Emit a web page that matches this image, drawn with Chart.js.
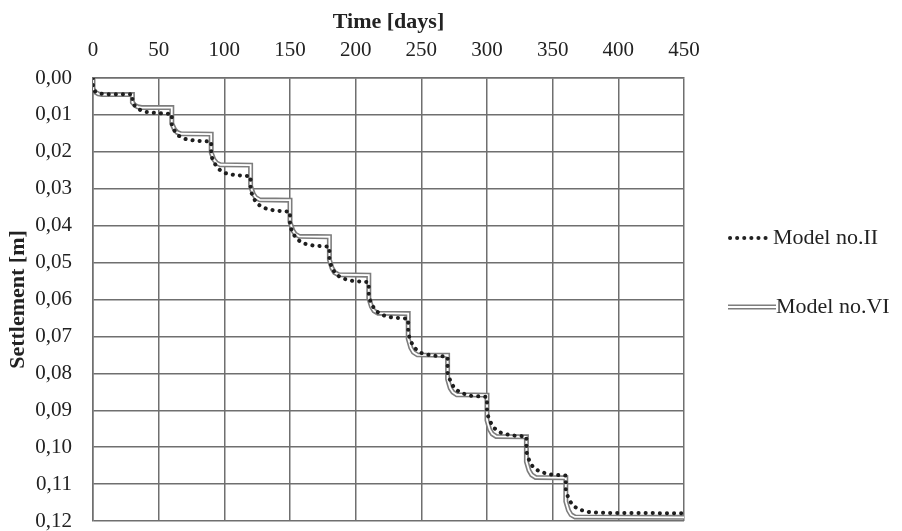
<!DOCTYPE html>
<html>
<head>
<meta charset="utf-8">
<script src="https://cdn.jsdelivr.net/npm/chart.js@4.4.1/dist/chart.umd.min.js"></script>
<style>
  html, body { margin: 0; padding: 0; background: #fff; }
  #wrap { width: 902px; height: 531px; }
</style>
</head>
<body>
<div id="wrap"><canvas id="settle" width="902" height="531"></canvas></div>
<script>
// series names as in the legend
const seriesNames = ["Model no.II", "Model no.VI"];

// Model no.II (dotted)
const daysII = [
  0, 0, 2, 5, 10, 18,
  30, 30, 32, 35, 40, 48,
  60, 60, 62, 65, 70, 78,
  90, 90, 92, 95, 100, 108,
  120, 120, 122, 125, 130, 138,
  150, 150, 152, 155, 160, 168,
  180, 180, 182, 185, 190, 198,
  210, 210, 212, 215, 220, 228,
  240, 240, 242, 245, 250, 258,
  270, 270, 272, 275, 280, 288,
  300, 300, 302, 305, 310, 318,
  330, 330, 332, 335, 340, 348,
  360, 360, 362, 365, 370, 378,
  390, 450
];
const settlementII = [
  0, 0.0030, 0.0038, 0.0042, 0.0044, 0.0044,
  0.0044, 0.0065, 0.0076, 0.0085, 0.0092, 0.0095,
  0.0097, 0.0127, 0.0142, 0.0156, 0.0165, 0.0170,
  0.0172, 0.0210, 0.0228, 0.0245, 0.0257, 0.0263,
  0.0266, 0.0304, 0.0324, 0.0341, 0.0352, 0.0359,
  0.0362, 0.0400, 0.0419, 0.0436, 0.0448, 0.0454,
  0.0457, 0.0495, 0.0515, 0.0532, 0.0543, 0.0550,
  0.0553, 0.0593, 0.0612, 0.0630, 0.0642, 0.0649,
  0.0652, 0.0693, 0.0714, 0.0732, 0.0745, 0.0752,
  0.0755, 0.0799, 0.0820, 0.0840, 0.0853, 0.0861,
  0.0864, 0.0907, 0.0928, 0.0947, 0.0960, 0.0968,
  0.0971, 0.1013, 0.1035, 0.1054, 0.1066, 0.1074,
  0.1077, 0.1118, 0.1138, 0.1157, 0.1169, 0.1176,
  0.1178, 0.1179
];

// Model no.VI (double line)
const daysVI = [
  0, 0, 2, 4, 7,
  30, 30, 32, 34, 37,
  60, 60, 62, 64, 67,
  90, 90, 92, 94, 97,
  120, 120, 122, 124, 127,
  150, 150, 152, 154, 157,
  180, 180, 182, 184, 187,
  210, 210, 212, 214, 217,
  240, 240, 242, 244, 247,
  270, 270, 272, 274, 277,
  300, 300, 302, 304, 307,
  330, 330, 332, 334, 337,
  360, 360, 362, 364, 367,
  450
];
const settlementVI = [
  0, 0.0030, 0.0039, 0.0043, 0.0045,
  0.0045, 0.0066, 0.0074, 0.0078, 0.0080,
  0.0080, 0.0123, 0.0139, 0.0147, 0.0151,
  0.0152, 0.0202, 0.0221, 0.0230, 0.0235,
  0.0236, 0.0293, 0.0314, 0.0324, 0.0330,
  0.0331, 0.0390, 0.0412, 0.0423, 0.0429,
  0.0430, 0.0492, 0.0515, 0.0527, 0.0533,
  0.0534, 0.0596, 0.0619, 0.0631, 0.0637,
  0.0638, 0.0706, 0.0731, 0.0743, 0.0750,
  0.0751, 0.0816, 0.0840, 0.0851, 0.0858,
  0.0859, 0.0927, 0.0952, 0.0964, 0.0971,
  0.0972, 0.1039, 0.1063, 0.1075, 0.1082,
  0.1083, 0.1147, 0.1171, 0.1183, 0.1189,
  0.1190
];

const FONT = "'Liberation Serif', 'Times New Roman', serif";
const GRID = "#6f6f6f";

function pairs(xs, ys){
  return xs.map((x, i) => ({ x: x, y: ys[i] }));
}

// legend drawn at the right side, outside the plot
const sideLegend = {
  id: "sideLegend",
  afterDraw(chart){
    const ctx = chart.ctx;
    ctx.save();
    ctx.lineCap = "round";
    ctx.strokeStyle = "#222";
    ctx.lineWidth = 4;
    ctx.setLineDash([0.1, 7]);
    ctx.beginPath(); ctx.moveTo(730, 238); ctx.lineTo(767, 238); ctx.stroke();
    ctx.setLineDash([]);
    ctx.lineCap = "butt";
    ctx.strokeStyle = "#7d7d7d"; ctx.lineWidth = 5;
    ctx.beginPath(); ctx.moveTo(728, 307); ctx.lineTo(776, 307); ctx.stroke();
    ctx.strokeStyle = "#fff"; ctx.lineWidth = 1.8;
    ctx.beginPath(); ctx.moveTo(728, 307); ctx.lineTo(776, 307); ctx.stroke();
    ctx.fillStyle = "#222";
    ctx.font = "22px " + FONT;
    ctx.textBaseline = "middle";
    ctx.fillText(seriesNames[0], 773, 238);
    ctx.fillText(seriesNames[1], 776, 307);
    ctx.restore();
  }
};

new Chart(document.getElementById("settle"), {
  type: "line",
  data: {
    datasets: [
      {
        label: seriesNames[0],
        data: pairs(daysII, settlementII),
        borderColor: "#1e1e1e",
        borderWidth: 4,
        borderDash: [0.1, 7],
        borderCapStyle: "round",
        pointRadius: 0,
        tension: 0,
        order: 0
      },
      {
        label: seriesNames[1],
        data: pairs(daysVI, settlementVI),
        borderColor: "#ffffff",
        borderWidth: 1.8,
        pointRadius: 0,
        tension: 0,
        order: 1
      },
      {
        label: seriesNames[1] + " outline",
        data: pairs(daysVI, settlementVI),
        borderColor: "#7d7d7d",
        borderWidth: 5,
        pointRadius: 0,
        tension: 0,
        order: 2
      }
    ]
  },
  options: {
    responsive: false,
    animation: false,
    devicePixelRatio: 1,
    layout: { padding: { left: 0, top: 0, right: 218, bottom: 10 } },
    plugins: { legend: { display: false }, tooltip: { enabled: false } },
    scales: {
      x: {
        type: "linear",
        position: "top",
        min: 0, max: 450,
        ticks: { stepSize: 50, padding: 15, color: "#222", font: { family: FONT, size: 21 } },
        grid: { color: GRID, lineWidth: 1.5, drawTicks: false },
        border: { color: GRID, width: 1.5 },
        title: { display: true, text: "Time [days]", color: "#222",
                 font: { family: FONT, size: 22, weight: "bold" }, padding: { top: 9, bottom: 0 } },
        afterFit(scale){
          scale.height = 78;
          scale.paddingLeft = 0;
          scale.paddingRight = 0;
        }
      },
      y: {
        reverse: true,
        min: 0, max: 0.12,
        ticks: {
          stepSize: 0.01, padding: 21, color: "#222",
          font: { family: FONT, size: 21 },
          callback: v => v.toFixed(2).replace(".", ",")
        },
        grid: { color: GRID, lineWidth: 1.5, drawTicks: false },
        border: { color: GRID, width: 1.5 },
        title: { display: true, text: "Settlement [m]", color: "#222",
                 font: { family: FONT, size: 22, weight: "bold" }, padding: { top: 5, bottom: 0 } },
        afterFit(scale){
          scale.width = 93;
          scale.paddingTop = 0;
          scale.paddingBottom = 0;
        }
      }
    }
  },
  plugins: [sideLegend]
});
</script>
</body>
</html>
